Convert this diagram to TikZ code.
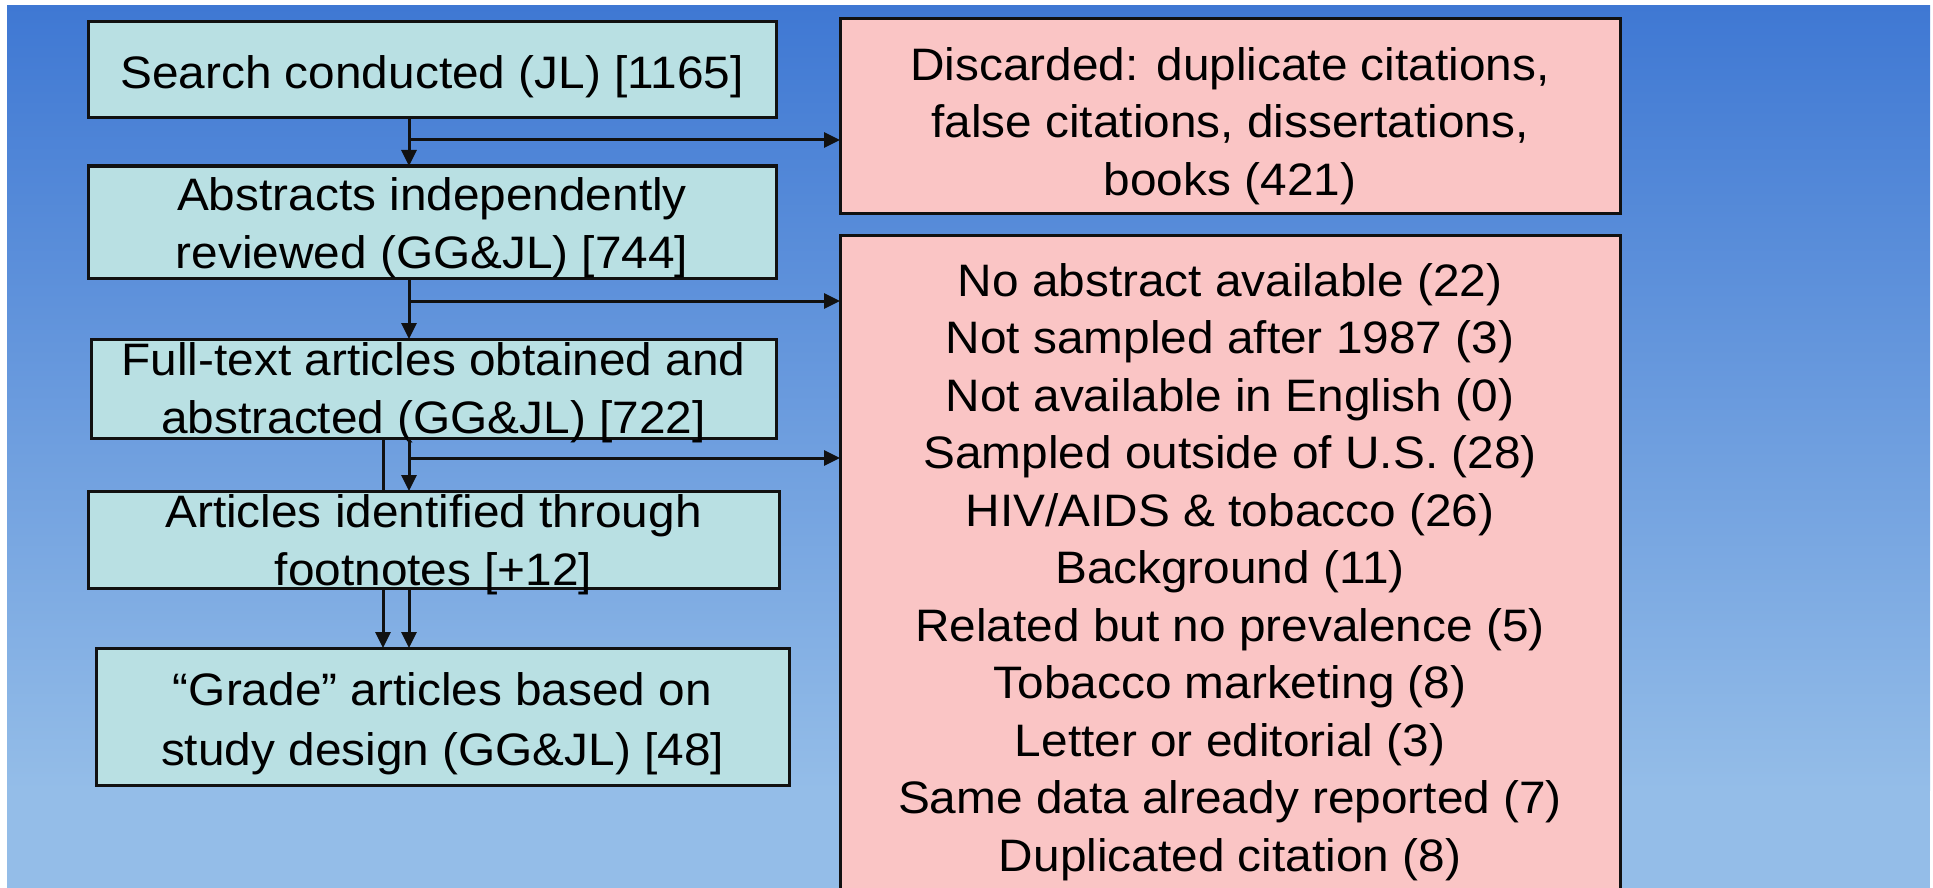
\documentclass[tikz,border=0pt]{standalone}
\usepackage{fontspec}
\setmainfont[FakeStretch=1.05]{Liberation Sans}
\usepackage{xcolor}
\definecolor{slideTop}{HTML}{3F78D3}
\definecolor{slideBottom}{HTML}{94BDE8}
\definecolor{stageTeal}{HTML}{B9E0E3}
\definecolor{dropPink}{HTML}{FAC5C5}
\definecolor{darkLine}{HTML}{111111}
\usepackage{tikz}
\usetikzlibrary{
    arrows.meta,
    positioning
}
\tikzset{
    % Base style for all boxes
    flow base/.style={
        font=\fontsize{45.5}{57.5}\selectfont,
        align=center,
        text=black,
        rectangle,
        draw=darkLine,
        line width=3pt,
        inner sep=0pt,
        outer sep=0pt,
    },
    % Screening steps - left column
    stage/.style={
        flow base,
        fill=stageTeal,
        minimum width=688pt,
    },
    % Discarded records - right column
    discard/.style={
        flow base,
        fill=dropPink,
        minimum width=780pt,
    },
    % Arrow style
    arrow/.style={
        -{Triangle[length=16pt, width=15pt]},
        line width=3pt,
        draw=darkLine,
    },
    % Plain line, no tip
    link/.style={
        line width=3pt,
        draw=darkLine,
    },
}
\begin{document}
\begin{tikzpicture}[x=1pt, y=-1pt]
    \useasboundingbox (0,0) rectangle (1933,888);
    \clip (0,0) rectangle (1933,888);
    % slide background
    \fill[white] (0,0) rectangle (1933,888);
    \shade[top color=slideTop, bottom color=slideBottom] (7,6) rectangle (1930,790);
    \fill[slideBottom] (7,789) rectangle (1930,888);

    \node (search) [stage, minimum height=96pt, text height=42pt, text depth=4pt] at (432,70) {Search conducted (JL) [1165]};
    \node (abstracts) [stage, minimum height=112pt, text height=100pt, text depth=8pt, below=48pt of search] {Abstracts independently\\reviewed (GG\&JL) [744]};
    \node (fulltext) [stage, minimum width=685pt, minimum height=99pt, text height=92pt, text depth=3pt, below=61pt of abstracts, xshift=1.5pt] {Full-text articles obtained and\\abstracted (GG\&JL) [722]};
    \node (footnotes) [stage, minimum width=691pt, minimum height=97pt, text height=93pt, text depth=2pt, below=53pt of fulltext] {Articles identified through\\footnotes [+12]};
    \node (grade) [stage, minimum width=693pt, minimum height=137pt, text height=105pt, text depth=8pt, below=60pt of footnotes, xshift=9pt, font=\fontsize{45.5}{60}\selectfont] {``Grade'' articles based on\\study design (GG\&JL) [48]};

    \node (discarded) [discard, minimum height=194pt, text height=170pt, text depth=12pt] at (1230,116) {Discarded: duplicate citations,\\false citations, dissertations,\\books (421)};
    \node (excluded) [discard, minimum height=700pt, text height=620pt, text depth=48pt, below=22pt of discarded] {No abstract available (22)\\Not sampled after 1987 (3)\\Not available in English (0)\\Sampled outside of U.S. (28)\\HIV/AIDS \& tobacco (26)\\Background (11)\\Related but no prevalence (5)\\Tobacco marketing (8)\\Letter or editorial (3)\\Same data already reported (7)\\Duplicated citation (8)};

    \coordinate (split1) at (409,140);
    \coordinate (split2) at (409,301);
    \coordinate (split3) at (409,458);
    \coordinate (bypass) at (383,458);

    \draw [arrow] (search.south -| split1) -- (abstracts.north -| split1);
    \draw [arrow] (split1) -- (split1 -| discarded.west);
    \draw [arrow] (abstracts.south -| split2) -- (fulltext.north -| split2);
    \draw [arrow] (split2) -- (split2 -| excluded.west);
    \draw [arrow] (fulltext.south -| split3) -- (footnotes.north -| split3);
    \draw [arrow] (split3) -- (split3 -| excluded.west);
    \draw [link] (fulltext.south -| bypass) -- (footnotes.north -| bypass);
    \draw [arrow] (footnotes.south -| bypass) -- (grade.north -| bypass);
    \draw [arrow] (footnotes.south -| split3) -- (grade.north -| split3);
\end{tikzpicture}
\end{document}
